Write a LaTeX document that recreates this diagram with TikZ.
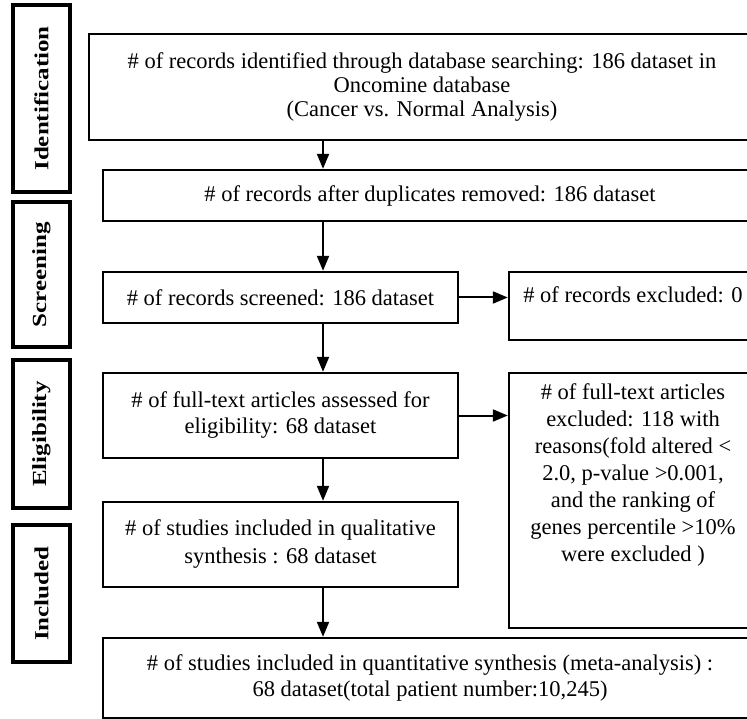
\documentclass[tikz,border=0pt]{standalone}
\usepackage{fontspec}
\setmainfont{Liberation Serif}
\newfontfamily\stagefont[FakeStretch=1.25]{Liberation Serif}
\usetikzlibrary{arrows.meta}
\tikzset{
  box/.style={draw,line width=2.4pt,align=center,inner sep=0pt,font=\fontsize{22.5}{26}\selectfont},
  stage/.style={draw,line width=3.6pt,rotate=90,inner sep=0pt,minimum height=57pt,
    font=\stagefont\bfseries\fontsize{20}{24}\selectfont},
  flow/.style={line width=2pt,-{Triangle[length=15pt,width=12pt]}}
}
\begin{document}
\begin{tikzpicture}[x=1pt,y=-1pt]
  \useasboundingbox (0,0) rectangle (747,719);
  \clip (0,0) rectangle (747,719);
  \node[stage,minimum width=187pt] (ident) at (41.5,98.5) {Identification};
  \node[stage,minimum width=145pt] (screen) at (41.5,274.5) {Screening};
  \node[stage,minimum width=148pt] (elig) at (41.5,434) {Eligibility};
  \node[stage,minimum width=137pt] (incl) at (41.5,593.5) {Included};
  \node[box,minimum width=666pt,minimum height=106pt,font=\fontsize{22.5}{24}\selectfont] (id) at (422,87)
    {\# of records identified through database searching: 186 dataset in\\ Oncomine database\\ (Cancer vs. Normal Analysis)};
  \node[box,minimum width=654pt,minimum height=51pt] (dup) at (430,195.5) {\# of records after duplicates removed: 186 dataset};
  \node[box,minimum width=355pt,minimum height=51pt] (scr) at (280.5,297.5) {\# of records screened: 186 dataset};
  \node[box,minimum width=248pt,minimum height=68pt,text depth=22pt] (exc0) at (633,306) {\# of records excluded: 0};
  \node[box,minimum width=355pt,minimum height=85pt] (full) at (280.5,415.5) {\# of full-text articles assessed for\\ eligibility: 68 dataset};
  \node[box,minimum width=248pt,minimum height=255pt,text depth=55pt,font=\fontsize{22.5}{27}\selectfont] (exc) at (633,500.5)
    {\# of full-text articles\\ excluded: 118 with\\ reasons(fold altered <\\ 2.0, p-value >0.001,\\ and the ranking of\\ genes percentile >10\%\\ were excluded )};
  \node[box,minimum width=355pt,minimum height=85pt,font=\fontsize{22.5}{28}\selectfont] (qual) at (280.5,544.5) {\# of studies included in qualitative\\ synthesis : 68 dataset};
  \node[box,minimum width=654pt,minimum height=80pt] (quant) at (430,678)
    {\# of studies included in quantitative synthesis (meta-analysis) :\\ 68 dataset(total patient number:10,245)};
  \coordinate (spine) at (323,0);
  \draw[flow] (id.south -| spine) -- (dup.north -| spine);
  \draw[flow] (dup.south -| spine) -- (scr.north -| spine);
  \draw[flow] (scr.south -| spine) -- (full.north -| spine);
  \draw[flow] (full.south -| spine) -- (qual.north -| spine);
  \draw[flow] (qual.south -| spine) -- (quant.north -| spine);
  \draw[flow] (scr.east) -- (scr.east -| exc0.west);
  \draw[flow] (full.east) -- (full.east -| exc.west);
\end{tikzpicture}
\end{document}
